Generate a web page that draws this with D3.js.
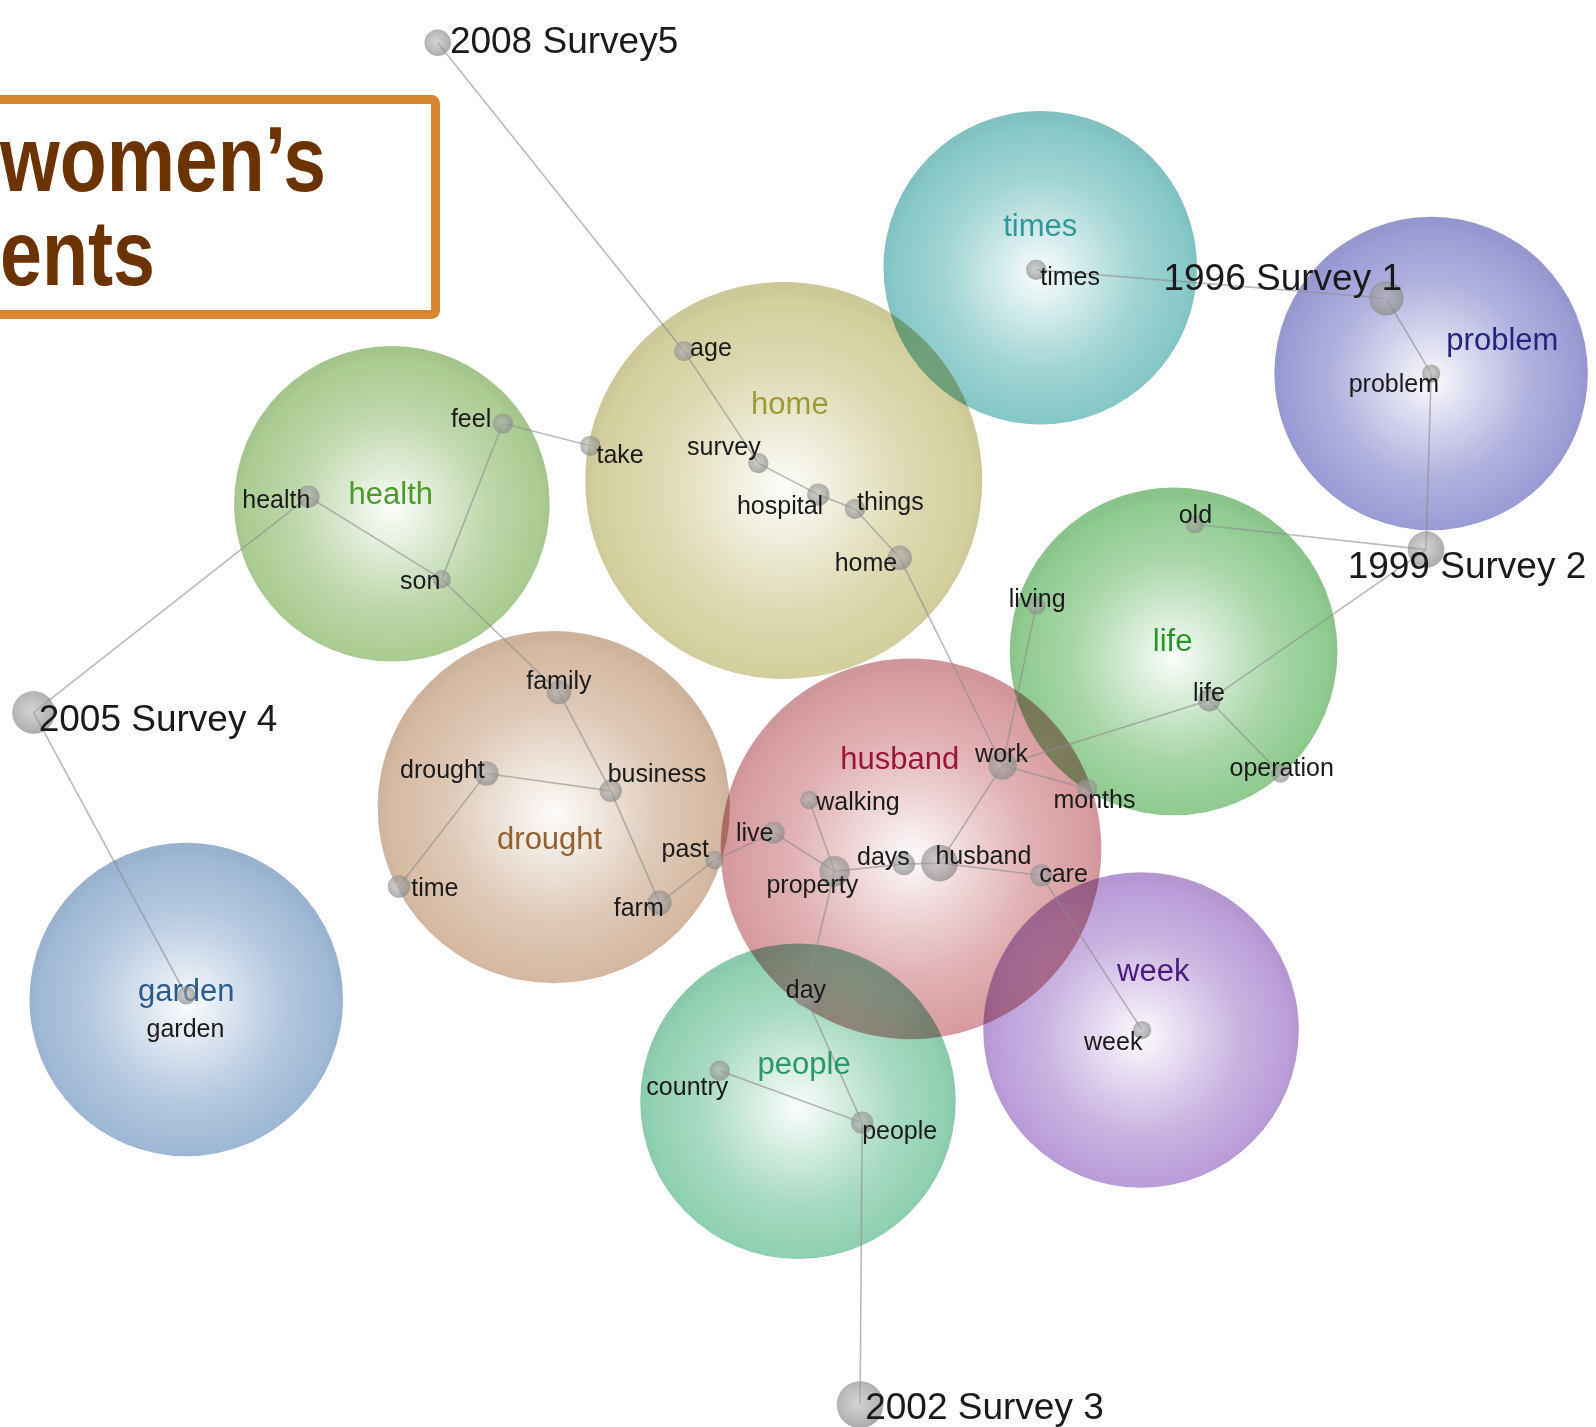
<!DOCTYPE html>
<html>
<head>
<meta charset="utf-8">
<script src="https://cdn.jsdelivr.net/npm/d3@7/dist/d3.min.js"></script>
<style>
  html, body { margin: 0; padding: 0; background: #fff; }
  svg { display: block; }
</style>
</head>
<body>
<script>
// ---------------- DATA (map coordinates) ----------------
const themeNames  = ["times", "problem", "home", "health", "life", "drought", "husband", "people", "week", "garden"];
const themeX      = [1022, 1406, 770, 385, 1153, 544, 895, 784, 1121, 183];
const themeY      = [263, 367, 472, 495, 640, 793, 834, 1082, 1012, 982];
const themeR      = [154, 154, 195, 155, 161, 173, 187, 155, 155, 154];
const themeLabelX = [1022, 1476, 776, 384, 1152, 540, 884, 790, 1133, 183];
const themeLabelY = [232, 344, 407, 495, 640, 834, 756, 1055, 964, 983];

const conceptNames = ["times", "problem", "age", "survey", "take", "hospital", "things", "home",
  "feel", "health", "son", "family", "drought", "business", "time", "past", "farm",
  "work", "walking", "live", "property", "days", "husband", "care",
  "old", "living", "life", "operation", "months", "week", "day", "country", "people", "garden"];
const conceptX = [1018, 1406, 672, 745, 580, 804, 840, 884,
  494, 303, 434, 549, 478, 600, 392, 702, 648,
  985, 795, 760, 820, 888, 923, 1023,
  1174, 1018, 1188, 1258, 1068, 1122, 791, 707, 847, 183];
const conceptY = [265, 367, 345, 455, 438, 486, 500, 548,
  416, 488, 569, 680, 760, 777, 871, 845, 887,
  752, 786, 818, 856, 849, 848, 860,
  515, 595, 688, 760, 775, 1012, 978, 1052, 1103, 978];
const conceptWeight = [10, 9, 10, 10, 10, 11, 10, 12,
  10, 11, 9, 12, 12, 11, 11, 9, 12,
  14, 9, 11, 15, 11, 18, 11,
  9, 9, 11, 9, 10, 9, 11, 10, 11, 9];
const conceptLabelX = [1022, 1325, 678, 675, 586, 724, 842, 820,
  443, 238, 393, 517, 393, 597, 404, 650, 603,
  958, 802, 723, 753, 842, 919, 1021,
  1158, 991, 1172, 1208, 1035, 1065, 772, 635, 847, 144];
const conceptLabelY = [280, 385, 350, 447, 455, 505, 501, 561,
  420, 499, 579, 677, 764, 768, 880, 842, 900,
  749, 796, 826, 877, 850, 849, 867,
  514, 596, 689, 762, 794, 1032, 981, 1076, 1119, 1019];

const surveyNames  = ["2008 Survey5", "1996 Survey 1", "1999 Survey 2", "2005 Survey 4", "2002 Survey 3"];
const surveyX      = [430, 1362, 1401, 33, 845];
const surveyY      = [42, 293, 540, 700, 1380];
const surveyWeight = [13, 17, 18, 21, 23];
const surveyLabelX = [442, 1143, 1324, 38, 850];
const surveyLabelY = [52, 285, 568, 718, 1394];

const linkPairs = [
  ["2008 Survey5", "age"], ["age", "survey"], ["survey", "hospital"], ["hospital", "things"],
  ["things", "home"], ["home", "work"], ["feel", "take"], ["feel", "son"], ["health", "son"],
  ["health", "2005 Survey 4"], ["2005 Survey 4", "garden"], ["son", "family"], ["family", "business"],
  ["drought", "business"], ["drought", "time"], ["business", "farm"], ["farm", "past"], ["past", "live"],
  ["live", "property"], ["walking", "property"], ["property", "days"], ["days", "husband"],
  ["husband", "work"], ["husband", "care"], ["care", "week"], ["work", "months"], ["work", "living"],
  ["work", "life"], ["life", "operation"], ["life", "1999 Survey 2"], ["old", "1999 Survey 2"],
  ["problem", "1999 Survey 2"], ["problem", "1996 Survey 1"], ["times", "1996 Survey 1"],
  ["property", "day"], ["day", "people"], ["country", "people"], ["people", "2002 Survey 3"]
];

const titleLines = ["women\u2019s", "ents"];

// ---------------- STYLES ----------------
const themeEdge = {
  times: "#86c8c8", problem: "#9c9cd6", home: "#d3cf9e", health: "#abcc92", life: "#90cb90",
  drought: "#d5b9a2", husband: "#d89ca0", people: "#90d0b2", week: "#bb9dd9", garden: "#9fb8d6"
};
const themeText = {
  times: "#2f9797", problem: "#25257f", home: "#a09a35", health: "#4c9a2a", life: "#2a962a",
  drought: "#93602f", husband: "#9c1535", people: "#2b9868", week: "#4a1a7d", garden: "#2a5a8a"
};

// ---------------- SCALES ----------------
const W = 1596, H = 1427;
const sx = d3.scaleLinear().domain([0, 1568]).range([0, W]);
const sy = d3.scaleLinear().domain([0, 1402]).range([0, H]);
const sr = d3.scaleLinear().domain([0, 1568]).range([0, W]);

const svg = d3.select("body").append("svg").attr("width", W).attr("height", H)
  .style("font-family", "'Liberation Sans', Arial, sans-serif");
const defs = svg.append("defs");

// theme gradients
themeNames.forEach(t => {
  const c = themeEdge[t];
  const g = defs.append("radialGradient").attr("id", "g-" + t)
    .attr("cx", "50%").attr("cy", "52%").attr("r", "50%");
  const mix = d3.interpolateRgb("#ffffff", c);
  g.append("stop").attr("offset", "0%").attr("stop-color", mix(0.04));
  g.append("stop").attr("offset", "25%").attr("stop-color", mix(0.35));
  g.append("stop").attr("offset", "62%").attr("stop-color", mix(0.78));
  g.append("stop").attr("offset", "94%").attr("stop-color", mix(1));
  g.append("stop").attr("offset", "100%").attr("stop-color", d3.color(c).darker(0.1));
});
const dg = defs.append("radialGradient").attr("id", "dot").attr("cx", "45%").attr("cy", "45%").attr("r", "55%");
dg.append("stop").attr("offset", "0%").attr("stop-color", "#b0b0b0").attr("stop-opacity", 0.55);
dg.append("stop").attr("offset", "100%").attr("stop-color", "#888888").attr("stop-opacity", 0.7);

// ---------------- THEME CIRCLES ----------------
const themes = themeNames.map((n, i) => ({ n, x: themeX[i], y: themeY[i], r: themeR[i], lx: themeLabelX[i], ly: themeLabelY[i] }));
svg.append("g").selectAll("circle").data(themes).join("circle")
  .attr("cx", d => sx(d.x)).attr("cy", d => sy(d.y)).attr("r", d => sr(d.r))
  .attr("fill", d => `url(#g-${d.n})`)
  .style("mix-blend-mode", "multiply");

// ---------------- NODES ----------------
const nodes = new Map();
conceptNames.forEach((n, i) => nodes.set(n, { n, x: conceptX[i], y: conceptY[i], w: conceptWeight[i], lx: conceptLabelX[i], ly: conceptLabelY[i], kind: "c" }));
surveyNames.forEach((n, i) => nodes.set(n, { n, x: surveyX[i], y: surveyY[i], w: surveyWeight[i], lx: surveyLabelX[i], ly: surveyLabelY[i], kind: "s" }));

// links
svg.append("g").selectAll("line").data(linkPairs).join("line")
  .attr("x1", d => sx(nodes.get(d[0]).x)).attr("y1", d => sy(nodes.get(d[0]).y))
  .attr("x2", d => sx(nodes.get(d[1]).x)).attr("y2", d => sy(nodes.get(d[1]).y))
  .attr("stroke", "#8c8c8c").attr("stroke-opacity", 0.6).attr("stroke-width", 1.6);

// theme labels
svg.append("g").selectAll("text").data(themes).join("text")
  .attr("x", d => sx(d.lx)).attr("y", d => sy(d.ly))
  .attr("text-anchor", "middle")
  .attr("font-size", 31)
  .attr("fill", d => themeText[d.n])
  .text(d => d.n);

// dots
const nodeArr = Array.from(nodes.values());
svg.append("g").selectAll("circle").data(nodeArr).join("circle")
  .attr("cx", d => sx(d.x)).attr("cy", d => sy(d.y)).attr("r", d => sr(d.w))
  .attr("fill", "url(#dot)");

// node labels
svg.append("g").selectAll("text").data(nodeArr).join("text")
  .attr("x", d => sx(d.lx)).attr("y", d => sy(d.ly))
  .attr("font-size", d => d.kind === "s" ? 37 : 25)
  .attr("fill", "#1a1a1a")
  .text(d => d.n);

// ---------------- TITLE BOX ----------------
const tb = svg.append("g");
tb.append("rect").attr("x", -20).attr("y", 99.5).attr("width", 455.5).attr("height", 215)
  .attr("rx", 4).attr("fill", "#ffffff").attr("stroke", "#d8862f").attr("stroke-width", 9);
const tw = [326, 155];
const ty = [191, 285];
tb.selectAll("text").data(titleLines).join("text")
  .attr("x", 0).attr("y", (d, i) => ty[i])
  .attr("font-family", "'Liberation Sans', Arial, sans-serif")
  .attr("font-weight", "bold").attr("font-size", 92)
  .attr("textLength", (d, i) => tw[i]).attr("lengthAdjust", "spacingAndGlyphs")
  .attr("fill", "#6b3300")
  .text(d => d);
</script>
</body>
</html>
